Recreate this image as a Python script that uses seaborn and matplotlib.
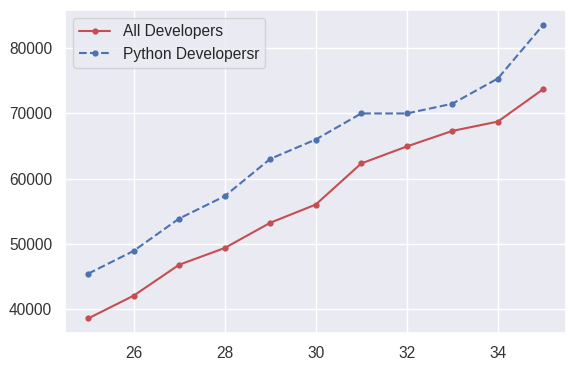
import matplotlib
matplotlib.use("Agg")
import matplotlib.pyplot as plt
import seaborn as sns
import pandas as pd

# Ages and median salaries
ages_x = [25, 26, 27, 28, 29, 30, 31, 32, 33, 34, 35]
dev_y = [38496, 42000, 46752, 49320, 53200, 56000, 62316, 64928, 67317, 68748, 73752]
py_dev_y = [45372, 48876, 53850, 57287, 63016, 65998, 70003, 70000, 71496, 75370, 83640]

sns.set_theme(style="darkgrid", color_codes=True)
plt.rcParams['font.family'] = ['Liberation Sans', 'DejaVu Sans']

df = pd.DataFrame({'age': ages_x, 'all': dev_y, 'py': py_dev_y})

fig, ax = plt.subplots(figsize=(5.73, 3.71), dpi=100)
sns.lineplot(data=df, x='age', y='all', color='r', marker='.', markersize=9,
             markeredgewidth=0, linewidth=1.5, label='All Developers', ax=ax)
sns.lineplot(data=df, x='age', y='py', color='b', marker='.', markersize=9,
             markeredgewidth=0, linewidth=1.5, linestyle='--',
             label='Python Developersr', ax=ax)

ax.set_xlabel('')
ax.set_ylabel('')
ax.tick_params(labelsize=11.2, colors='#333333')
ax.legend(loc='upper left', fontsize=11.2)

fig.subplots_adjust(left=0.114, right=0.988, bottom=0.102, top=0.973)
fig.savefig('out.png', dpi=100)
